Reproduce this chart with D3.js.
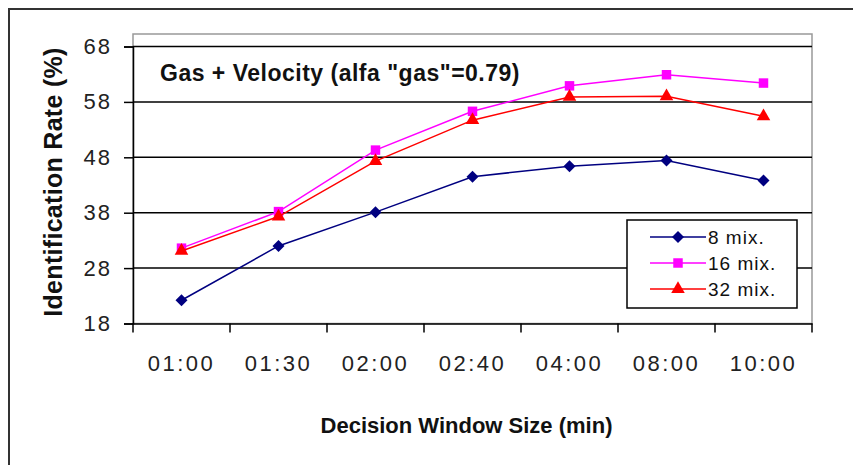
<!DOCTYPE html>
<html>
<head>
<meta charset="utf-8">
<script src="https://cdn.jsdelivr.net/npm/d3@7"></script>
<style>
  html, body { margin: 0; padding: 0; background: #fff; }
  svg { display: block; }
  text { font-family: "Liberation Sans", Arial, sans-serif; }
</style>
</head>
<body>
<svg id="chart" width="853" height="465"></svg>
<script>
// Decision window sizes (x categories)
const windows = ["01:00", "01:30", "02:00", "02:40", "04:00", "08:00", "10:00"];
// Identification rate (%) per mixture count
const mix8  = [22.2, 32.0, 38.1, 44.5, 46.4, 47.4, 43.8];
const mix16 = [31.6, 38.2, 49.3, 56.3, 60.9, 62.9, 61.4];
const mix32 = [31.1, 37.3, 47.3, 54.7, 58.9, 59.0, 55.4];
const yTicks = [18, 28, 38, 48, 58, 68];
const seriesNames = ["8 mix.", "16 mix.", "32 mix."];

// Square diamond: a square symbol turned 45 degrees
const series = [
  { name: seriesNames[0], values: mix8,  color: "#000080", symbol: d3.symbolSquare,   size: 72, rot: 45 },
  { name: seriesNames[1], values: mix16, color: "#FF00FF", symbol: d3.symbolSquare,   size: 90, rot: 0 },
  { name: seriesNames[2], values: mix32, color: "#FF0000", symbol: d3.symbolTriangle, size: 80, rot: 0 }
];

const svg = d3.select("#chart");

// Outer chart frame
svg.append("rect")
  .attr("x", 9).attr("y", 9)
  .attr("width", 900).attr("height", 500)
  .attr("fill", "#fff")
  .attr("stroke", "#333").attr("stroke-width", 2);

const plot = { left: 133, right: 812, top: 34, bottom: 323.5 };

const x = d3.scaleBand().domain(windows).range([plot.left, plot.right]).padding(0);
const y = d3.scaleLinear().domain([18, 68]).range([plot.bottom, 46.5]);

// Plot area border (light)
svg.append("rect")
  .attr("x", plot.left).attr("y", plot.top)
  .attr("width", plot.right - plot.left).attr("height", plot.bottom - plot.top)
  .attr("fill", "#fff").attr("stroke", "#999").attr("stroke-width", 1.5);

// Horizontal gridlines
svg.append("g")
  .selectAll("line")
  .data(yTicks.filter(t => t > 18))
  .join("line")
  .attr("x1", plot.left).attr("x2", plot.right)
  .attr("y1", d => y(d)).attr("y2", d => y(d))
  .attr("stroke", "#000").attr("stroke-width", 1.5);

// Y axis
const yAxis = d3.axisLeft(y).tickValues(yTicks).tickSize(9).tickPadding(12).tickFormat(d3.format("d"));
const gy = svg.append("g").attr("transform", `translate(${plot.left},0)`).call(yAxis);
gy.select(".domain").attr("stroke", "#000").attr("stroke-width", 1.5);
gy.selectAll(".tick line").attr("stroke", "#000").attr("stroke-width", 1.5);
gy.selectAll(".tick text")
  .attr("font-size", 22).attr("letter-spacing", 2).attr("fill", "#222")
  .attr("font-family", "'Liberation Sans', Arial, sans-serif");

// X axis: ticks between categories, labels centred on categories
const xAxis = d3.axisBottom(x).tickSize(0).tickPadding(32);
const gx = svg.append("g").attr("transform", `translate(0,${plot.bottom})`).call(xAxis);
gx.select(".domain").attr("stroke", "#000").attr("stroke-width", 1.5);
gx.selectAll(".tick text")
  .attr("font-size", 22).attr("letter-spacing", 2.5).attr("fill", "#222")
  .attr("font-family", "'Liberation Sans', Arial, sans-serif");
const boundaries = windows.map(w => x(w)).concat([x(windows[windows.length - 1]) + x.bandwidth()]);
gx.append("g").selectAll("line")
  .data(boundaries)
  .join("line")
  .attr("x1", d => d).attr("x2", d => d)
  .attr("y1", 0).attr("y2", 9)
  .attr("stroke", "#000").attr("stroke-width", 1.5);

// Series lines and markers
const line = d3.line()
  .x((d, i) => x(windows[i]) + x.bandwidth() / 2)
  .y(d => y(d));

series.forEach(s => {
  svg.append("path")
    .datum(s.values)
    .attr("d", line)
    .attr("fill", "none")
    .attr("stroke", s.color)
    .attr("stroke-width", 1.5);
  svg.append("g").selectAll("path")
    .data(s.values)
    .join("path")
    .attr("transform", (d, i) => `translate(${x(windows[i]) + x.bandwidth() / 2},${y(d)}) rotate(${s.rot})`)
    .attr("d", d3.symbol().type(s.symbol).size(s.size))
    .attr("fill", s.color);
});

// Chart title inside plot
svg.append("text")
  .attr("x", 160).attr("y", 81)
  .attr("font-size", 23).attr("font-weight", "bold").attr("letter-spacing", 0.5).attr("fill", "#111")
  .text('Gas + Velocity (alfa "gas"=0.79)');

// Axis titles
svg.append("text")
  .attr("x", (plot.left + plot.right) / 2 - 6).attr("y", 433)
  .attr("text-anchor", "middle")
  .attr("font-size", 22).attr("font-weight", "bold").attr("fill", "#111")
  .text("Decision Window Size (min)");

svg.append("text")
  .attr("transform", "translate(62,182) rotate(-90)")
  .attr("text-anchor", "middle")
  .attr("font-size", 25).attr("font-weight", "bold").attr("letter-spacing", 0.3).attr("fill", "#111")
  .text("Identification Rate (%)");

// Legend
const lg = svg.append("g").attr("transform", "translate(627,220)");
lg.append("rect")
  .attr("width", 170).attr("height", 88)
  .attr("fill", "#fff").attr("stroke", "#000").attr("stroke-width", 1.5);
series.forEach((s, i) => {
  const cy = 17 + i * 26;
  const row = lg.append("g").attr("transform", `translate(0,${cy})`);
  row.append("line")
    .attr("x1", 23).attr("x2", 79).attr("y1", 0).attr("y2", 0)
    .attr("stroke", s.color).attr("stroke-width", 1.5);
  row.append("path")
    .attr("transform", `translate(51,0) rotate(${s.rot})`)
    .attr("d", d3.symbol().type(s.symbol).size(s.size))
    .attr("fill", s.color);
  row.append("text")
    .attr("x", 81).attr("y", 7)
    .attr("font-size", 19).attr("letter-spacing", 1).attr("fill", "#111")
    .text(s.name);
});
</script>
</body>
</html>
